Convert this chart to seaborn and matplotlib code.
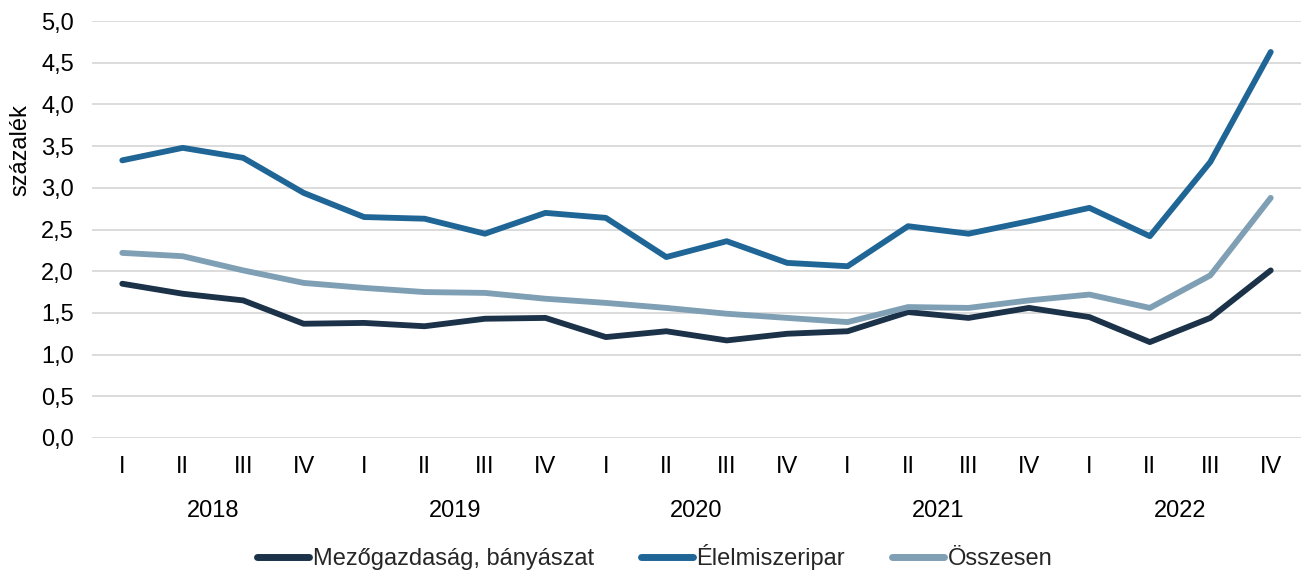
import numpy as np
import pandas as pd
import matplotlib
matplotlib.use("Agg")
import matplotlib.pyplot as plt
import seaborn as sns

quarters = ["I", "II", "III", "IV"] * 5
years = ["2018", "2019", "2020", "2021", "2022"]

mezogazdasag = [1.85, 1.73, 1.65, 1.37, 1.38, 1.34, 1.43, 1.44, 1.21, 1.28,
                1.17, 1.25, 1.28, 1.51, 1.44, 1.56, 1.45, 1.15, 1.44, 2.01]
elelmiszeripar = [3.33, 3.48, 3.36, 2.94, 2.65, 2.63, 2.45, 2.70, 2.64, 2.17,
                  2.36, 2.10, 2.06, 2.54, 2.45, 2.60, 2.76, 2.42, 3.31, 4.63]
osszesen = [2.22, 2.18, 2.01, 1.86, 1.80, 1.75, 1.74, 1.67, 1.62, 1.56,
            1.49, 1.44, 1.39, 1.57, 1.56, 1.65, 1.72, 1.56, 1.95, 2.88]

series_names = ["Mezőgazdaság, bányászat", "Élelmiszeripar", "Összesen"]
colors = ["#1b3249", "#1f6696", "#7f9fb4"]

idx = np.arange(len(quarters))
df = pd.concat([
    pd.DataFrame({"t": idx, "value": vals, "series": name})
    for name, vals in zip(series_names, [mezogazdasag, elelmiszeripar, osszesen])
], ignore_index=True)

sns.set_theme(style="white")
plt.rcParams["font.family"] = ["Liberation Sans", "DejaVu Sans"]

FS = 17

fig = plt.figure(figsize=(13.02, 5.71), dpi=100)
ax = fig.add_axes([0.0707, 0.233, 0.9285, 0.730])

sns.lineplot(data=df, x="t", y="value", hue="series", hue_order=series_names,
             palette=colors, linewidth=4.2, ax=ax, legend=True)
for line in ax.get_lines():
    line.set_solid_capstyle("round")
    line.set_solid_joinstyle("round")

ax.set_xlim(-0.5, len(quarters) - 0.5)
ax.set_ylim(0, 5.0)
ax.set_yticks(np.arange(0, 5.01, 0.5))
ax.set_yticklabels([f"{v:.1f}".replace(".", ",") for v in np.arange(0, 5.01, 0.5)])
ax.set_xticks(idx)
ax.set_xticklabels(quarters)
ax.tick_params(axis="both", length=0, labelsize=FS, colors="black")
ax.tick_params(axis="y", pad=13)
ax.tick_params(axis="x", pad=13)

ax.yaxis.grid(True, color="#d9d9d9", linewidth=1.3)
ax.xaxis.grid(False)
for sp in ax.spines.values():
    sp.set_visible(False)

ax.set_xlabel("")
ax.set_ylabel("százalék", fontsize=FS, color="black")
ax.yaxis.set_label_coords(-0.05, 0.69)

# year labels centred under each group of four quarters
for i, yr in enumerate(years):
    ax.text(i * 4 + 1.5, -0.175, yr, transform=ax.get_xaxis_transform(),
            ha="center", va="center", fontsize=FS, color="black")

handles, labels = ax.get_legend_handles_labels()
for h in handles:
    h.set_linewidth(5)
    h.set_solid_capstyle("round")
ax.legend(handles, labels, loc="center", bbox_to_anchor=(0.503, 0.0245),
          bbox_transform=fig.transFigure, ncol=3, frameon=False, fontsize=FS,
          handlelength=2.2, handletextpad=0.15, columnspacing=2.0)

fig.savefig("out.png", dpi=100)
